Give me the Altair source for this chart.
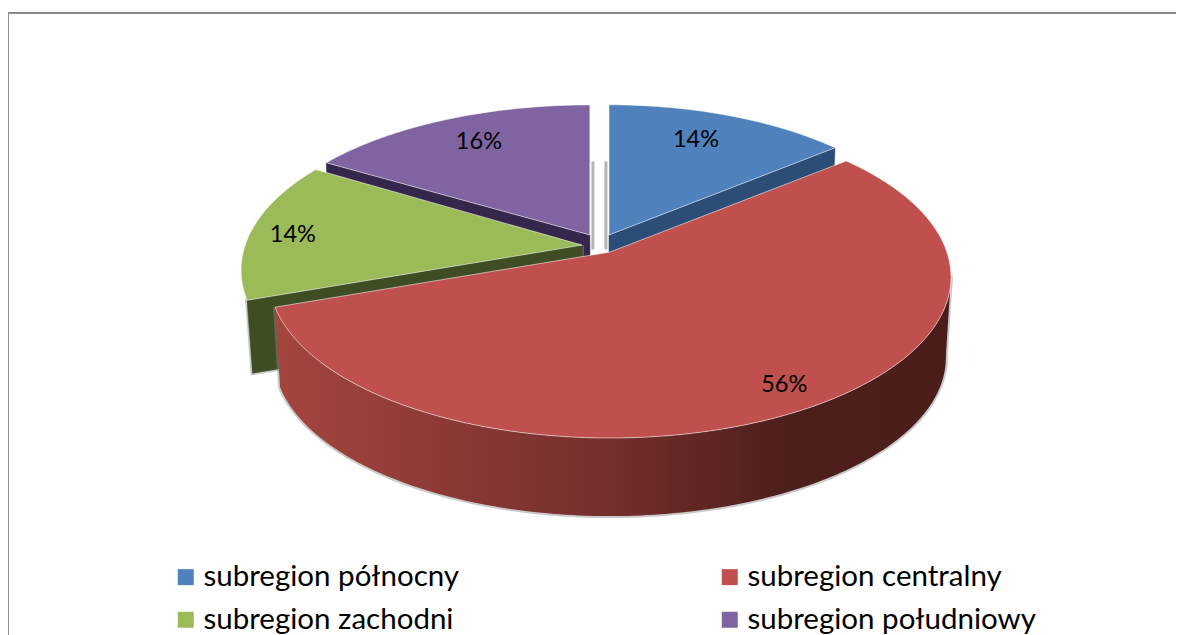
import math
import altair as alt
import pandas as pd

# ---- chart values ----
names = ["subregion północny", "subregion centralny", "subregion zachodni", "subregion południowy"]
shares = [14.0, 55.6, 14.1, 16.3]
top_colors = ["#4f81bd", "#c0504d", "#9bbb59", "#8064a2"]
wall_colors = ["#2c4d75", "#7a302e", "#3f4d22", "#35264c"]

# ---- view of the pie: explosion and perspective ----
P = 0.155                      # how far the pie centre sits behind the rim's centre
EXPLODE_X = [-0.003, 0.0, -0.082, -0.059]
EXPLODE_Y = [0.106, 0.0, 0.043, 0.106]
SHRINK = [0.957, 1.0, 1.0, 0.956]
SHRINK_X = [0.957, 1.0, 1.0, 0.99]
DEPTH = [0.50, 0.50, 0.455, 0.50]   # thickness of each slice in y units
WALL_SHRINK = 0.985
LABEL_R = [0.76, 0.875, 0.87, 0.78]
LABEL_F = [0.46, 0.49, 0.47, 0.52]

W, H = 1168, 627
A, B = 341.0, 161.0
CX, CY = 602.0, 269.0
xdom = [-CX / A, (W - CX) / A]
ydom = [(CY - H) / B, CY / B]


def persp(x, y):
    d = 1 + P * y
    return x * math.sqrt(1 - P * P) / d, (y + P) / d


def place(k, x, y):
    px, py = persp(x, y)
    return EXPLODE_X[k] + SHRINK_X[k] * px, P + EXPLODE_Y[k] + SHRINK[k] * (py - P)


def lower(k, u, v):
    return u * WALL_SHRINK, v * WALL_SHRINK - DEPTH[k]


starts = []
acc = 0.0
for s in shares:
    starts.append(acc)
    acc += s


def rim(k):
    a0 = starts[k] * 3.6
    a1 = (starts[k] + shares[k]) * 3.6
    n = max(2, int(a1 - a0))
    out = []
    for i in range(n + 1):
        t = math.radians(a0 + (a1 - a0) * i / n)
        out.append(place(k, math.sin(t), math.cos(t)))
    return out


def top_frame(k):
    pts = [place(k, 0, 0)] + rim(k) + [place(k, 0, 0)]
    return pd.DataFrame({"u": [p[0] for p in pts], "v": [p[1] for p in pts],
                         "i": range(len(pts)), "name": names[k]})


def poly_frame(pts):
    pts = list(pts) + [pts[0]]
    return pd.DataFrame({"u": [p[0] for p in pts], "v": [p[1] for p in pts], "i": range(len(pts))})


def cut_wall(k, far_end):
    apex = place(k, 0, 0)
    r = rim(k)
    end = r[-1] if far_end else r[0]
    return poly_frame([apex, end, lower(k, *end), lower(k, *apex)])


def front_wall(k):
    r = rim(k)
    # only the part of the rim that faces the viewer
    r = r[r.index(max(r, key=lambda p: p[0])):]
    return poly_frame(r + [lower(k, *p) for p in reversed(r)])


xs = alt.X("u:Q", scale=alt.Scale(domain=xdom, nice=False, zero=False), axis=None)
ys = alt.Y("v:Q", scale=alt.Scale(domain=ydom, nice=False, zero=False), axis=None)


def shape(df, **mark):
    return alt.Chart(df).mark_line(**mark).encode(x=xs, y=ys, order="i:Q")


fill_scale = alt.Scale(domain=names, range=top_colors)
legend = alt.Legend(
    title=None, orient="none", legendX=163, legendY=554, columns=2, direction="horizontal",
    symbolType="square", symbolSize=256, symbolStrokeWidth=0, labelFont="Lato", labelFontSize=29.5,
    labelColor="#000000", labelOffset=3, rowPadding=12, columnPadding=255, padding=0, labelLimit=400,
)


def top(k):
    return alt.Chart(top_frame(k)).mark_line(stroke="#ffffff", strokeWidth=1, strokeOpacity=0.55).encode(
        x=xs, y=ys, order="i:Q",
        fill=alt.Fill("name:N", scale=fill_scale, legend=legend),
    )


red_gradient = alt.Gradient(
    gradient="linear", x1=0, x2=1, y1=0, y2=0,
    stops=[alt.GradientStop(offset=0, color="#a5453f"),
           alt.GradientStop(offset=0.5, color="#742e2c"),
           alt.GradientStop(offset=0.76, color="#4d1f1c"),
           alt.GradientStop(offset=1, color="#4a1d1b")],
)

# thin shadows in the gap between the two back slices
gap = pd.DataFrame({
    "u": [place(3, 0, 0)[0] + 0.009, place(0, 0, 0)[0] - 0.009],
    "v": [place(3, 0, 0.53)[1], place(0, 0, 0.53)[1]],
    "v2": [place(3, 0, 0)[1] - 0.09, place(0, 0, 0)[1] - 0.09],
})


def label_point(k):
    t = math.radians((starts[k] + LABEL_F[k] * shares[k]) * 3.6)
    return place(k, LABEL_R[k] * math.sin(t), LABEL_R[k] * math.cos(t))


labels = pd.DataFrame({
    "u": [label_point(k)[0] for k in range(4)],
    "v": [label_point(k)[1] for k in range(4)],
    "t": [f"{round(s)}%" for s in shares],
})

frame_top = alt.Chart(pd.DataFrame({"a": [0]})).mark_rule(color="#8c8c8c", strokeWidth=2).encode(
    x=alt.value(0), x2=alt.value(W), y=alt.value(5))
frame_left = alt.Chart(pd.DataFrame({"a": [0]})).mark_rule(color="#8c8c8c", strokeWidth=2).encode(
    x=alt.value(0), y=alt.value(5), y2=alt.value(H))

soft = dict(fill="transparent", stroke="#8a8a8a", strokeWidth=4, strokeOpacity=0.45)

chart = alt.layer(
    frame_top, frame_left,
    alt.Chart(gap).mark_rule(color="#b5b5b5", strokeWidth=3).encode(x=xs, y=ys, y2="v2:Q"),
    shape(cut_wall(3, False), fill=wall_colors[3], stroke=wall_colors[3], strokeWidth=0.5),
    shape(cut_wall(0, True), fill=wall_colors[0], stroke=wall_colors[0], strokeWidth=0.5),
    top(3), top(0),
    shape(cut_wall(2, False), **soft),
    shape(cut_wall(2, False), fill=wall_colors[2], stroke=wall_colors[2], strokeWidth=0.5),
    top(2),
    shape(front_wall(1), **soft),
    shape(front_wall(1), fill=red_gradient, stroke="transparent"),
    top(1),
    alt.Chart(labels).mark_text(font="Lato", fontSize=23.5, color="#000000").encode(x=xs, y=ys, text="t:N"),
).properties(
    width=W, height=H, padding=0, autosize=alt.AutoSizeParams(type="none"),
).configure_view(stroke=None)

chart.save("out.html", embed_options={"renderer": "svg", "actions": False})
